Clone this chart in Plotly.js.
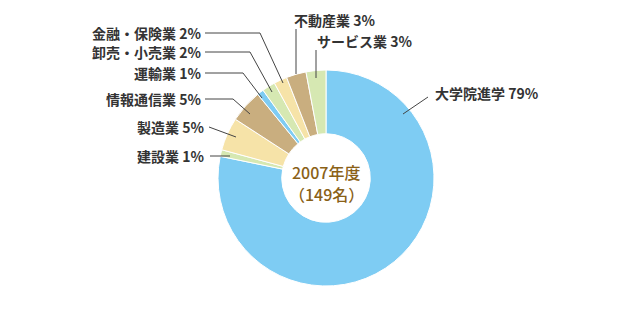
<!DOCTYPE html>
<html>
<head>
<meta charset="utf-8">
<script src="https://cdn.plot.ly/plotly-3.0.1.min.js"></script>
<style>html,body{margin:0;padding:0;background:#fff;}#chart{width:624px;height:320px;}</style>
</head>
<body>
<div id="chart"></div>
<script>
// ---- data ----
const categories = ["大学院進学", "建設業", "製造業", "情報通信業", "運輸業", "卸売・小売業", "金融・保険業", "不動産業", "サービス業"];
const percents = [79, 1, 5, 5, 1, 2, 2, 3, 3];
const centerTitle = "2007年度";
const centerCount = "（149名）";

// ---- styles ----
const BLUE = "#7ECCF3", GREEN = "#D6E8B2", YELLOW = "#F6E3A8", TAN = "#C9AE7F";
const sliceColors = [BLUE, GREEN, YELLOW, TAN, BLUE, GREEN, YELLOW, TAN, GREEN];
const W = 624, H = 320;
const px = x => x / W, py = y => 1 - y / H;

// label placement: text anchor + leader polyline (pixel coords)
const labelLayout = [
  {tx: 433, ty: 93, anchor: "left",  path: [[403,114],[428,97]]},
  {tx: 206, ty: 156, anchor: "right", path: [[210,156],[230,156]]},
  {tx: 206, ty: 127, anchor: "right", path: [[209,127],[236,137]]},
  {tx: 203, ty: 99, anchor: "right", path: [[205,99],[233,99],[250,114]]},
  {tx: 203, ty: 73, anchor: "right", path: [[205,73],[243,73],[262,98]]},
  {tx: 203, ty: 52, anchor: "right", path: [[205,52],[250,52],[272,92]]},
  {tx: 203, ty: 33, anchor: "right", path: [[205,33],[260,33],[283,83]]},
  {tx: 292, ty: 20, anchor: "left",  path: [[296,29],[296,74]]},
  {tx: 315, ty: 41, anchor: "left",  path: [[316,50],[316,78]]}
];

const labelFont = {family: "Noto Sans CJK JP, Noto Sans, sans-serif", size: 14, color: "#333333", weight: 700};
const centerFont = {family: "Noto Sans CJK JP, Noto Sans, sans-serif", size: 16, color: "#8A6117", weight: 500};

const annotations = categories.map((c, i) => ({
  text: c + " " + percents[i] + "%",
  x: px(labelLayout[i].tx), y: py(labelLayout[i].ty),
  xref: "paper", yref: "paper",
  xanchor: labelLayout[i].anchor, yanchor: "middle",
  showarrow: false, font: labelFont
}));
[[centerTitle, 172], [centerCount, 194]].forEach(([t, y]) => annotations.push({
  text: t, x: px(326), y: py(y), xref: "paper", yref: "paper",
  xanchor: "center", yanchor: "middle", showarrow: false, borderpad: 0, font: centerFont
}));

const shapes = labelLayout.map(l => ({
  type: "path", xref: "paper", yref: "paper",
  path: l.path.map((p, k) => (k ? "L" : "M") + px(p[0]) + "," + py(p[1])).join(" "),
  line: {color: "#444444", width: 1}
}));

const trace = {
  type: "pie",
  labels: categories,
  values: percents,
  sort: false,
  direction: "clockwise",
  rotation: 0,
  hole: 0.41,
  textinfo: "none",
  hoverinfo: "label+percent",
  marker: {colors: sliceColors, line: {color: "#ffffff", width: 1}},
  domain: {x: [px(218), px(434)], y: [py(286), py(70)]}
};

const layout = {
  width: W, height: H,
  margin: {l: 0, r: 0, t: 0, b: 0},
  showlegend: false,
  paper_bgcolor: "#ffffff",
  annotations: annotations,
  shapes: shapes
};

Plotly.newPlot("chart", [trace], layout, {displayModeBar: false, staticPlot: true});
</script>
</body>
</html>
